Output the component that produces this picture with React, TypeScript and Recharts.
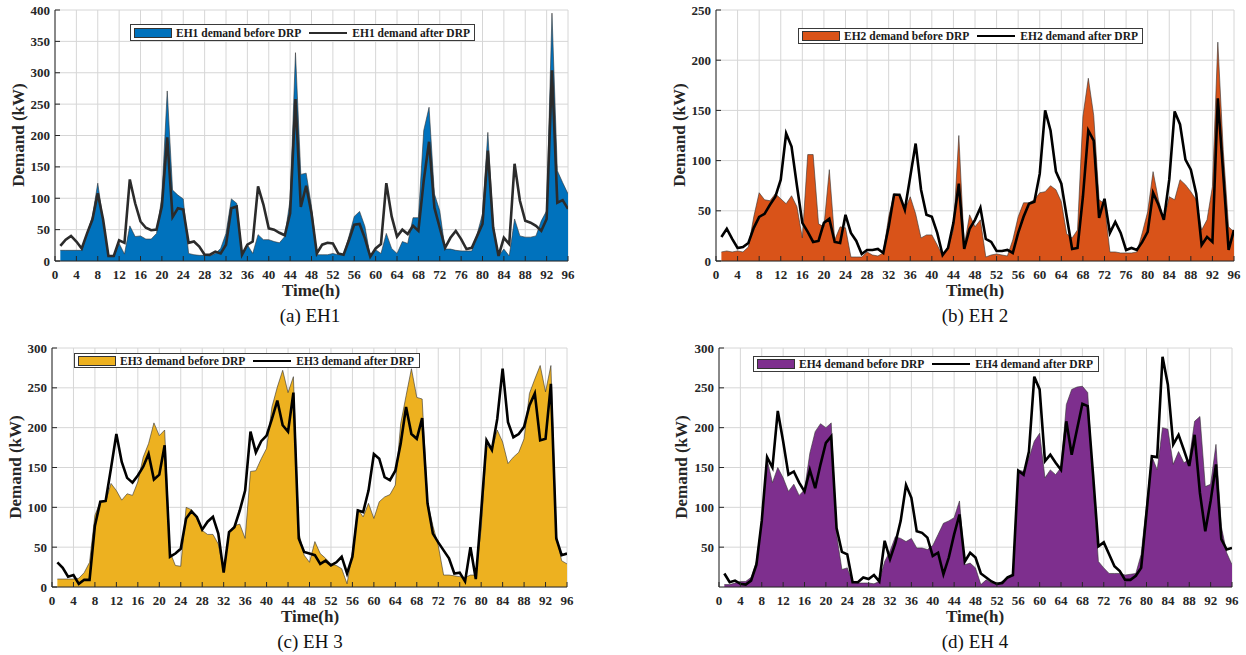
import React from 'react'
import { ComposedChart, Area, Line, XAxis, YAxis, CartesianGrid } from 'recharts'

const SERIF = "'Liberation Serif', 'Times New Roman', serif"

const HOURS = Array.from({ length: 96 }, (_, i) => i + 1)
const X_TICKS = [0, 4, 8, 12, 16, 20, 24, 28, 32, 36, 40, 44, 48, 52, 56, 60, 64, 68, 72, 76, 80, 84, 88, 92, 96]
const TICKS_400 = [0, 50, 100, 150, 200, 250, 300, 350, 400]
const TICKS_250 = [0, 50, 100, 150, 200, 250]
const TICKS_300 = [0, 50, 100, 150, 200, 250, 300]
const TICKS_300_NO_ZERO = [50, 100, 150, 200, 250, 300]

// EH1
const eh1Before = [
  17, 17, 17, 17, 17, 44, 71, 124, 65, 7,
  7, 28, 11, 56, 39, 40, 35, 35, 44, 103,
  271, 113, 105, 99, 12, 10, 9, 9, 8, 12,
  20, 44, 99, 92, 10, 26, 12, 42, 34, 34,
  31, 29, 39, 98, 332, 138, 140, 87, 10, 10,
  10, 12, 10, 10, 39, 71, 79, 55, 7, 18,
  12, 44, 20, 12, 31, 28, 69, 69, 208, 245,
  107, 80, 19, 19, 17, 16, 16, 16, 43, 75,
  205, 58, 8, 19, 8, 67, 40, 38, 38, 40,
  64, 80, 395, 144, 125, 107,
]
const eh1After = [
  24, 34, 40, 31, 20, 44, 66, 108, 66, 8,
  8, 33, 29, 130, 92, 63, 53, 49, 50, 87,
  197, 70, 84, 82, 29, 31, 23, 10, 10, 15,
  12, 26, 84, 87, 10, 26, 31, 119, 90, 52,
  50, 45, 41, 76, 258, 86, 120, 76, 12, 26,
  29, 28, 12, 10, 33, 58, 59, 36, 7, 20,
  27, 124, 71, 39, 50, 43, 56, 48, 128, 190,
  85, 53, 21, 37, 48, 35, 19, 21, 40, 59,
  176, 53, 8, 37, 27, 155, 96, 64, 61, 56,
  48, 67, 304, 93, 97, 83,
]

// EH2
const eh2Before = [
  9, 10, 9, 10, 9, 14, 44, 68, 61, 60,
  67, 62, 57, 65, 54, 23, 106, 106, 37, 34,
  91, 21, 34, 33, 4, 4, 4, 9, 6, 5,
  8, 44, 67, 66, 51, 64, 47, 23, 26, 26,
  16, 5, 14, 31, 125, 15, 46, 34, 41, 4,
  6, 7, 6, 5, 21, 44, 58, 58, 61, 68,
  69, 75, 71, 59, 27, 23, 31, 144, 182, 145,
  61, 57, 9, 9, 8, 8, 8, 9, 28, 49,
  89, 61, 41, 64, 61, 81, 76, 69, 61, 31,
  41, 74, 218, 111, 34, 29,
]
const eh2After = [
  24, 32, 22, 13, 14, 18, 33, 44, 47, 56,
  64, 81, 127, 114, 75, 38, 29, 19, 20, 38,
  42, 19, 18, 46, 28, 20, 7, 11, 11, 12,
  8, 34, 66, 66, 51, 84, 117, 71, 46, 44,
  28, 6, 13, 38, 77, 12, 32, 41, 53, 22,
  19, 10, 10, 11, 8, 28, 44, 57, 59, 87,
  150, 130, 89, 77, 44, 12, 13, 64, 130, 120,
  43, 62, 28, 39, 28, 11, 13, 11, 19, 29,
  68, 56, 41, 81, 149, 136, 101, 91, 67, 16,
  24, 19, 162, 87, 11, 31,
]

// EH3
const eh3Before = [
  10, 10, 10, 10, 11, 18, 31, 90, 107, 107,
  130, 121, 109, 117, 115, 132, 163, 180, 206, 190,
  197, 44, 27, 26, 100, 97, 86, 71, 66, 66,
  54, 20, 69, 77, 79, 61, 145, 146, 161, 174,
  226, 251, 272, 244, 264, 69, 40, 31, 57, 42,
  36, 29, 27, 23, 4, 44, 98, 88, 105, 86,
  107, 113, 116, 128, 205, 240, 274, 238, 236, 107,
  77, 52, 15, 15, 14, 13, 12, 15, 15, 73,
  178, 172, 197, 182, 155, 163, 169, 186, 243, 261,
  278, 245, 278, 65, 33, 29,
]
const eh3After = [
  31, 24, 13, 15, 4, 9, 9, 77, 107, 108,
  149, 192, 157, 137, 131, 140, 151, 167, 135, 141,
  178, 38, 42, 48, 86, 95, 88, 72, 82, 88,
  67, 18, 69, 75, 96, 121, 195, 169, 183, 190,
  211, 234, 203, 195, 244, 61, 44, 42, 40, 29,
  33, 27, 31, 38, 17, 38, 96, 94, 121, 167,
  161, 138, 134, 146, 180, 226, 192, 186, 212, 105,
  67, 56, 46, 36, 17, 18, 7, 50, 10, 94,
  184, 172, 211, 274, 207, 188, 192, 201, 228, 243,
  184, 186, 255, 61, 40, 42,
]

// EH4
const eh4Before = [
  3, 3, 5, 7, 7, 12, 32, 83, 160, 131,
  150, 137, 120, 129, 115, 122, 168, 195, 205, 200,
  206, 66, 22, 24, 6, 5, 5, 5, 4, 7,
  32, 45, 63, 61, 57, 61, 49, 49, 47, 52,
  66, 80, 83, 87, 108, 28, 30, 24, 3, 9,
  5, 4, 7, 11, 16, 147, 145, 162, 183, 193,
  137, 147, 141, 150, 229, 248, 251, 252, 244, 129,
  32, 24, 17, 17, 17, 15, 16, 17, 41, 103,
  164, 147, 200, 198, 154, 170, 156, 160, 208, 214,
  126, 129, 179, 76, 43, 28,
]
const eh4After = [
  17, 6, 8, 4, 3, 8, 28, 83, 163, 150,
  221, 183, 141, 145, 131, 120, 147, 124, 154, 181,
  189, 74, 44, 41, 6, 6, 12, 10, 15, 7,
  58, 35, 55, 83, 128, 112, 70, 68, 62, 39,
  43, 16, 37, 66, 91, 32, 43, 37, 17, 12,
  7, 4, 5, 12, 15, 146, 141, 170, 264, 248,
  158, 166, 156, 147, 208, 166, 198, 230, 227, 141,
  51, 56, 41, 26, 20, 9, 9, 14, 24, 93,
  164, 163, 289, 254, 179, 191, 172, 152, 191, 118,
  70, 108, 154, 60, 47, 49,
]

const AXIS = '#262626'
const GRID = '#d6d6d6'

type PanelProps = {
  name: string
  caption: string
  before: number[]
  after: number[]
  fill: string
  lineColor: string
  yMax: number
  yTicks: number[]
  left: number
  top: number
  width: number
  height: number
  margin: { top: number; right: number; bottom: number; left: number }
  yWidth: number
  legend: { left: number; top: number; width: number; height: number }
  xTitle: { x: number; y: number }
  yTitle: { x: number; y: number }
  cap: { x: number; y: number }
}

function LegendBox({ name, fill, lineColor, box }: { name: string; fill: string; lineColor: string; box: PanelProps['legend'] }) {
  return (
    <div
      style={{
        position: 'absolute',
        left: box.left,
        top: box.top,
        width: box.width,
        height: box.height,
        boxSizing: 'border-box',
        border: '1.5px solid #3a3a3a',
        background: '#fff',
        display: 'flex',
        alignItems: 'center',
        padding: '0 3px',
        fontFamily: SERIF,
        fontWeight: 'bold',
        fontSize: 11.5,
        color: '#1a1a1a',
        whiteSpace: 'nowrap',
      }}
    >
      <span style={{ width: 38, height: 10, background: fill, border: '1px solid #333', boxSizing: 'border-box' }} />
      <span style={{ marginLeft: 4 }}>{name} demand before DRP</span>
      <span style={{ width: 38, height: 0, borderTop: `2.5px solid ${lineColor}`, marginLeft: 8 }} />
      <span style={{ marginLeft: 5 }}>{name} demand after DRP</span>
    </div>
  )
}

function Panel(p: PanelProps) {
  const rows = HOURS.map((t, i) => ({ t, before: p.before[i], after: p.after[i] }))
  const tickStyle = { fill: AXIS, fontSize: 13, fontWeight: 'bold' as const, fontFamily: SERIF }
  return (
    <>
      <div style={{ position: 'absolute', left: p.left, top: p.top, fontFamily: SERIF, fontWeight: 'bold' }}>
        <ComposedChart width={p.width} height={p.height} data={rows} margin={p.margin} style={{ fontFamily: SERIF }}>
          <CartesianGrid stroke={GRID} strokeWidth={1} />
          <XAxis
            type="number"
            dataKey="t"
            domain={[0, 96]}
            ticks={X_TICKS}
            interval={0}
            height={20}
            tick={tickStyle}
            tickSize={-5}
            tickMargin={14}
            stroke={AXIS}
            allowDataOverflow
          />
          <XAxis
            xAxisId="top"
            orientation="top"
            type="number"
            dataKey="t"
            domain={[0, 96]}
            ticks={X_TICKS}
            interval={0}
            height={0}
            tickSize={-5}
            tickFormatter={() => ''}
            stroke={AXIS}
          />
          <YAxis
            type="number"
            domain={[0, p.yMax]}
            ticks={p.yTicks}
            interval={0}
            width={p.yWidth}
            tick={tickStyle}
            tickSize={-5}
            tickMargin={10}
            stroke={AXIS}
            allowDataOverflow
          />
          <YAxis
            yAxisId="right"
            orientation="right"
            type="number"
            domain={[0, p.yMax]}
            ticks={p.yTicks}
            interval={0}
            width={0}
            tickSize={-5}
            tickFormatter={() => ''}
            stroke={AXIS}
          />
          <Area
            type="linear"
            dataKey="before"
            fill={p.fill}
            fillOpacity={1}
            stroke="#333"
            strokeWidth={0.6}
            baseValue={0}
            isAnimationActive={false}
          />
          <Line
            type="linear"
            dataKey="after"
            stroke={p.lineColor}
            strokeWidth={2.6}
            dot={false}
            activeDot={false}
            isAnimationActive={false}
          />
        </ComposedChart>
      </div>
      <LegendBox name={p.name} fill={p.fill} lineColor={p.lineColor} box={p.legend} />
      <div
        style={{
          position: 'absolute',
          left: p.xTitle.x - 60,
          top: p.xTitle.y - 10,
          width: 120,
          textAlign: 'center',
          fontFamily: SERIF,
          fontWeight: 'bold',
          fontSize: 17,
          lineHeight: '20px',
          color: AXIS,
        }}
      >
        Time(h)
      </div>
      <div
        style={{
          position: 'absolute',
          left: p.yTitle.x - 70,
          top: p.yTitle.y - 10,
          width: 140,
          textAlign: 'center',
          transform: 'rotate(-90deg)',
          fontFamily: SERIF,
          fontWeight: 'bold',
          fontSize: 17,
          lineHeight: '20px',
          color: AXIS,
        }}
      >
        Demand (kW)
      </div>
      <div
        style={{
          position: 'absolute',
          left: p.cap.x - 80,
          top: p.cap.y - 11,
          width: 160,
          textAlign: 'center',
          fontFamily: SERIF,
          fontSize: 19,
          lineHeight: '22px',
          color: '#111',
        }}
      >
        {p.caption}
      </div>
    </>
  )
}

export default function App() {
  return (
    <div style={{ position: 'absolute', left: 0, top: 0, width: 1246, height: 655, background: '#fff', overflow: 'hidden' }}>
      <Panel
        name="EH1"
        caption="(a) EH1"
        before={eh1Before}
        after={eh1After}
        fill="#0072BD"
        lineColor="#2b2b2b"
        yMax={400}
        yTicks={TICKS_400}
        left={0}
        top={0}
        width={600}
        height={300}
        margin={{ top: 10, right: 32, bottom: 19, left: 10 }}
        yWidth={45}
        legend={{ left: 130, top: 24, width: 345, height: 17 }}
        xTitle={{ x: 311, y: 291 }}
        yTitle={{ x: 19, y: 135 }}
        cap={{ x: 310, y: 316 }}
      />
      <Panel
        name="EH2"
        caption="(b) EH 2"
        before={eh2Before}
        after={eh2After}
        fill="#D95319"
        lineColor="#000"
        yMax={250}
        yTicks={TICKS_250}
        left={660}
        top={0}
        width={586}
        height={300}
        margin={{ top: 10, right: 12, bottom: 19, left: 10 }}
        yWidth={46}
        legend={{ left: 798, top: 28, width: 345, height: 16 }}
        xTitle={{ x: 975, y: 291 }}
        yTitle={{ x: 680, y: 135 }}
        cap={{ x: 975, y: 316 }}
      />
      <Panel
        name="EH3"
        caption="(c) EH 3"
        before={eh3Before}
        after={eh3After}
        fill="#EDB120"
        lineColor="#000"
        yMax={300}
        yTicks={TICKS_300}
        left={0}
        top={335}
        width={600}
        height={300}
        margin={{ top: 13, right: 33, bottom: 28, left: 10 }}
        yWidth={42}
        legend={{ left: 74, top: 353, width: 346, height: 15 }}
        xTitle={{ x: 310, y: 617 }}
        yTitle={{ x: 16, y: 467 }}
        cap={{ x: 310, y: 642 }}
      />
      <Panel
        name="EH4"
        caption="(d) EH 4"
        before={eh4Before}
        after={eh4After}
        fill="#7E2F8E"
        lineColor="#000"
        yMax={300}
        yTicks={TICKS_300_NO_ZERO}
        left={660}
        top={335}
        width={586}
        height={300}
        margin={{ top: 13, right: 14, bottom: 28, left: 10 }}
        yWidth={49}
        legend={{ left: 753, top: 356, width: 346, height: 16 }}
        xTitle={{ x: 975, y: 617 }}
        yTitle={{ x: 682, y: 467 }}
        cap={{ x: 975, y: 642 }}
      />
    </div>
  )
}
